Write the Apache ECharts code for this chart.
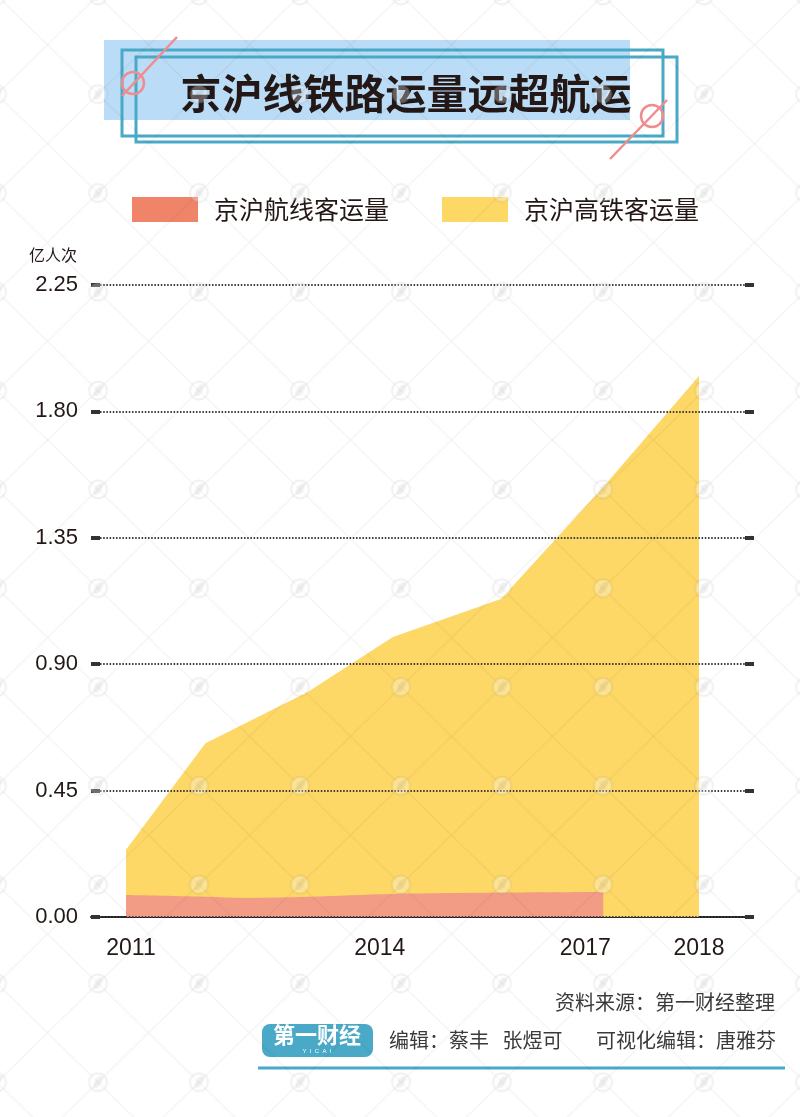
<!DOCTYPE html>
<html>
<head>
<meta charset="utf-8">
<script src="https://cdn.jsdelivr.net/npm/echarts/dist/echarts.min.js"></script>
<style>
  html, body { margin: 0; padding: 0; background: #ffffff; }
  #wrap { position: relative; width: 800px; height: 1117px; }
  #chart { position: absolute; left: 0; top: 0; width: 800px; height: 1117px; }
  #wm { position: absolute; left: 0; top: 0; width: 800px; height: 1117px; pointer-events: none; }
</style>
</head>
<body>
<div id="wrap">
  <div id="chart"></div>
  <svg id="wm" width="800" height="1117" xmlns="http://www.w3.org/2000/svg">
    <defs>
      <pattern id="tile" patternUnits="userSpaceOnUse" x="47.5" y="143.6" width="101" height="98.8">
        <line x1="0" y1="0" x2="101" y2="98.8" stroke="rgba(0,0,0,0.05)" stroke-width="1.1"/>
        <line x1="101" y1="0" x2="0" y2="98.8" stroke="rgba(0,0,0,0.05)" stroke-width="1.1"/>
        <circle cx="50.5" cy="49.4" r="9" fill="#ffffff" fill-opacity="0.3" stroke="rgba(0,0,0,0.06)" stroke-width="1.8"/>
        <path d="M45.5,55 Q46.5,47 52,43.5 L56,43.5 Q55,51 49.5,55 Z" fill="rgba(0,0,0,0.06)"/>
      </pattern>
    </defs>
    <rect x="0" y="0" width="800" height="1117" fill="url(#tile)"/>
  </svg>
</div>
<script>
// ---- data ----
const titleText = '京沪线铁路运量远超航运';
const seriesNames = ['京沪航线客运量', '京沪高铁客运量'];
const yearLabels = ['2011', '2014', '2017', '2018'];
const yearLabelPositions = [2011.06, 2014.10, 2016.61, 2018.00];
const railX = [2011.00, 2011.97, 2013.22, 2014.26, 2015.58, 2016.83, 2018.00];
const railValues = [0.239, 0.619, 0.801, 0.997, 1.132, 1.531, 1.926];
const airX = [2011.00, 2011.97, 2012.48, 2013.22, 2014.26, 2015.58, 2016.83];
const airValues = [0.078, 0.072, 0.068, 0.072, 0.082, 0.087, 0.089];
const yUnit = '亿人次';
const sourceText = '资料来源：第一财经整理';
const editorText = '编辑：蔡丰   张煜可';
const visEditorText = '可视化编辑：唐雅芬';

const railData = railX.map((x, i) => [x, railValues[i]]);
const airData = airX.map((x, i) => [x, airValues[i]]);

const dark = '#231815';
const teal = '#49A9C6';
const pink = '#F08C8E';
const cjk = '"Noto Sans CJK SC", "Noto Sans", sans-serif';
const latin = '"Liberation Sans", Arial, sans-serif';

const chart = echarts.init(document.getElementById('chart'), null, { renderer: 'canvas' });

chart.setOption({
  backgroundColor: '#ffffff',
  animation: false,
  legend: {
    left: 132, top: 197, padding: 0,
    itemWidth: 66, itemHeight: 25, itemGap: 53,
    icon: 'rect',
    textStyle: { fontFamily: cjk, fontSize: 25, color: dark, padding: [0, 0, 0, 11] },
    data: [
      { name: seriesNames[0], itemStyle: { color: '#EF8469' } },
      { name: seriesNames[1], itemStyle: { color: '#FDD865' } }
    ]
  },
  grid: [
    { left: 100, right: 55, top: 285, bottom: 200 },
    { left: 91, right: 48, top: 285, bottom: 200 }
  ],
  xAxis: [
    {
      type: 'value', gridIndex: 0, min: 2010.682, max: 2018.562,
      axisLine: { show: false }, axisTick: { show: false }, splitLine: { show: false },
      axisLabel: {
        customValues: yearLabelPositions,
        formatter: v => { const i = yearLabelPositions.findIndex(p => Math.abs(p - v) < 1e-6); return i >= 0 ? yearLabels[i] : ''; },
        margin: 20, fontSize: 23, color: dark, fontFamily: latin
      }
    },
    {
      type: 'value', gridIndex: 1, min: 0, max: 1,
      axisLine: { show: true, onZero: false, lineStyle: { color: dark, width: 2 } },
      axisTick: { show: false }, axisLabel: { show: false }, splitLine: { show: false }
    }
  ],
  yAxis: [
    {
      type: 'value', gridIndex: 0, min: 0, max: 2.25, interval: 0.45, z: 5,
      name: yUnit, nameLocation: 'end', nameGap: 22,
      nameTextStyle: { fontFamily: cjk, fontSize: 16, color: dark, align: 'right', padding: [0, 23, 0, 0] },
      axisLine: { show: false },
      axisTick: { show: true, length: 9, lineStyle: { color: '#333333', width: 4 } },
      axisLabel: { margin: 22, fontSize: 22, color: dark, fontFamily: latin, formatter: v => v.toFixed(2) },
      splitLine: { show: true, lineStyle: { color: '#3a3a3a', width: 2, type: [1.5, 1.7] } }
    },
    {
      type: 'value', gridIndex: 0, position: 'right', min: 0, max: 2.25, interval: 0.45, z: 5,
      axisLine: { show: false },
      axisTick: { show: true, length: 9, lineStyle: { color: '#333333', width: 4 } },
      axisLabel: { show: false }, splitLine: { show: false }
    },
    { type: 'value', gridIndex: 1, min: 0, max: 1, show: false }
  ],
  series: [
    {
      name: seriesNames[1], type: 'line', xAxisIndex: 0, yAxisIndex: 0,
      data: railData, symbol: 'none', z: 2,
      lineStyle: { width: 0 }, itemStyle: { color: '#FDD865' },
      areaStyle: { color: '#FDD866', opacity: 1 }
    },
    {
      name: seriesNames[0], type: 'line', xAxisIndex: 0, yAxisIndex: 0,
      data: airData, symbol: 'none', smooth: 0.35, z: 3,
      lineStyle: { width: 0 }, itemStyle: { color: '#EF8469' },
      areaStyle: { color: '#F29C86', opacity: 1 }
    }
  ],
  graphic: [
    { type: 'rect', z: 10, shape: { x: 104, y: 40, width: 526, height: 80 }, style: { fill: '#BBDCF6' } },
    { type: 'rect', z: 11, shape: { x: 122, y: 50, width: 541, height: 86 }, style: { fill: null, stroke: teal, lineWidth: 3 } },
    { type: 'rect', z: 11, shape: { x: 136, y: 57, width: 541, height: 85 }, style: { fill: null, stroke: teal, lineWidth: 3 } },
    { type: 'line', z: 12, shape: { x1: 122, y1: 96, x2: 177, y2: 37 }, style: { stroke: pink, lineWidth: 2.5 } },
    { type: 'circle', z: 12, shape: { cx: 133, cy: 83, r: 11 }, style: { fill: null, stroke: pink, lineWidth: 2.5 } },
    { type: 'line', z: 12, shape: { x1: 610, y1: 159, x2: 667, y2: 100 }, style: { stroke: pink, lineWidth: 2.5 } },
    { type: 'circle', z: 12, shape: { cx: 652, cy: 116, r: 11 }, style: { fill: null, stroke: pink, lineWidth: 2.5 } },
    { type: 'text', z: 13, x: 406, y: 93, style: { text: titleText, fill: dark, font: 'bold 41px ' + cjk, textAlign: 'center', textVerticalAlign: 'middle' } },

    { type: 'text', z: 13, x: 775, y: 1002, style: { text: sourceText, fill: '#3a3a3a', font: '20px ' + cjk, textAlign: 'right', textVerticalAlign: 'middle' } },
    { type: 'text', z: 13, x: 389, y: 1040, style: { text: editorText, fill: '#3a3a3a', font: '20px ' + cjk, textAlign: 'left', textVerticalAlign: 'middle' } },
    { type: 'text', z: 13, x: 776, y: 1040, style: { text: visEditorText, fill: '#3a3a3a', font: '20px ' + cjk, textAlign: 'right', textVerticalAlign: 'middle' } },
    { type: 'rect', z: 12, shape: { x: 262, y: 1024, width: 111, height: 33, r: 8 }, style: { fill: teal } },
    { type: 'text', z: 13, x: 317, y: 1035, style: { text: '第一财经', fill: '#ffffff', font: 'bold 22px ' + cjk, textAlign: 'center', textVerticalAlign: 'middle' } },
    { type: 'text', z: 13, x: 317, y: 1051, style: { text: 'Y  I  C  A  I', fill: '#ffffff', font: '6px ' + latin, textAlign: 'center', textVerticalAlign: 'middle' } },
    { type: 'line', z: 12, shape: { x1: 258, y1: 1068, x2: 785, y2: 1068 }, style: { stroke: teal, lineWidth: 3 } }
  ]
});
</script>
</body>
</html>
